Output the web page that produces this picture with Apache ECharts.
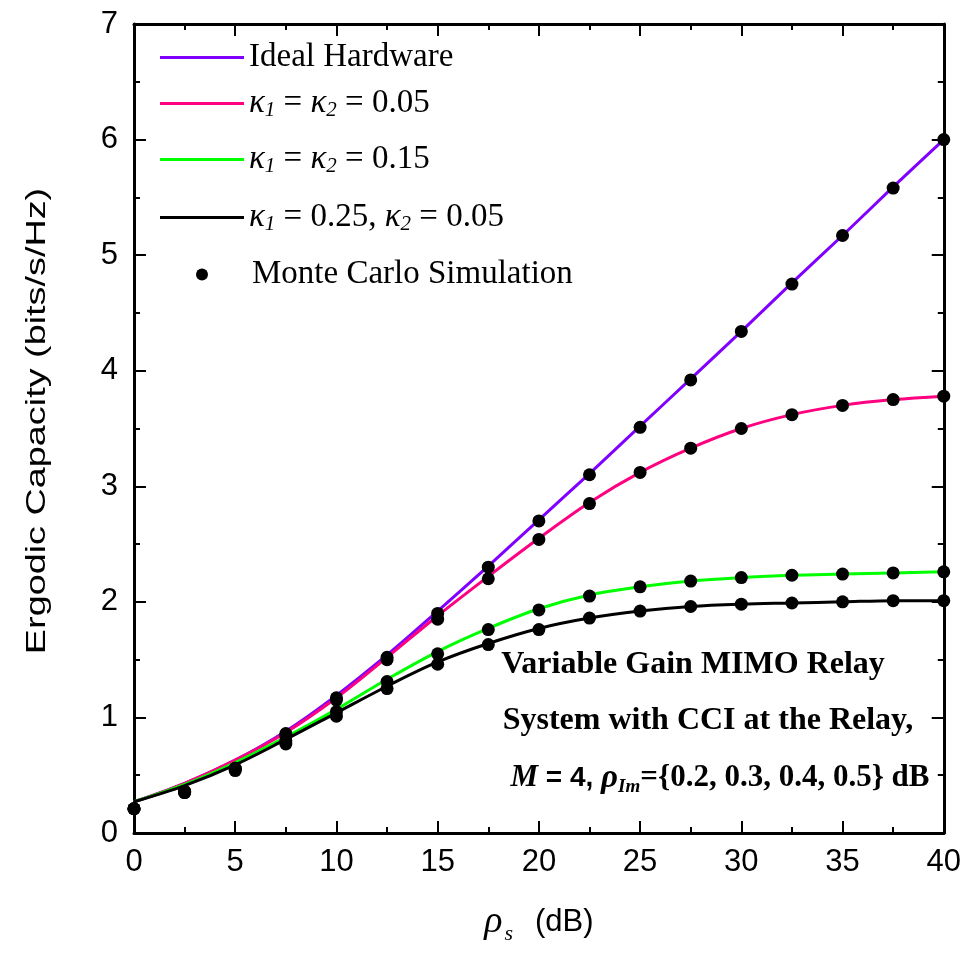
<!DOCTYPE html>
<html><head><meta charset="utf-8">
<script src="https://cdn.jsdelivr.net/npm/echarts@6/dist/echarts.min.js"></script>
<style>html,body{margin:0;padding:0;background:#fff}#c{width:964px;height:954px}</style>
</head><body><div id="c"></div>
<script>
var xs = [0,2.5,5,7.5,10,12.5,15,17.5,20,22.5,25,27.5,30,32.5,35,37.5,40];
var idealCurve = [0.27,0.43,0.63,0.88,1.19,1.54,1.92,2.31,2.71,3.11,3.52,3.93,4.34,4.76,5.17,5.59,6.0];
var k05Curve   = [0.27,0.43,0.63,0.87,1.17,1.52,1.88,2.22,2.55,2.86,3.12,3.33,3.50,3.62,3.70,3.75,3.78];
var k15Curve   = [0.27,0.42,0.61,0.83,1.07,1.33,1.57,1.77,1.94,2.06,2.13,2.18,2.21,2.23,2.24,2.25,2.26];
var k25Curve   = [0.27,0.41,0.59,0.81,1.04,1.27,1.48,1.64,1.77,1.86,1.92,1.96,1.98,1.99,2.00,2.01,2.01];
var idealMC = [0.21,0.36,0.56,0.86,1.17,1.52,1.90,2.30,2.70,3.10,3.51,3.92,4.34,4.75,5.17,5.58,6.0];
var k05MC   = [0.21,0.36,0.56,0.84,1.15,1.50,1.85,2.20,2.54,2.85,3.12,3.33,3.50,3.62,3.70,3.75,3.78];
var k15MC   = [0.21,0.35,0.55,0.80,1.05,1.31,1.55,1.76,1.93,2.05,2.13,2.18,2.21,2.23,2.24,2.25,2.26];
var k25MC   = [0.21,0.35,0.54,0.77,1.01,1.25,1.46,1.63,1.76,1.86,1.92,1.96,1.98,1.99,2.00,2.01,2.01];
var seriesNames = ['Ideal Hardware','k05','k15','k25','Monte Carlo Simulation'];
var seriesColors = ['#8000FF','#FF0080','#00FF00','#000000'];
var yTitle = 'Ergodic Capacity (bits/s/Hz)';

function pairs(v){ return xs.map(function(x,i){ return [x, v[i]]; }); }

var legendLabels = {
  'Ideal Hardware': '{t|Ideal Hardware}',
  'k05': '{k|κ}{s|1}{t| = }{k|κ}{s|2}{t| = 0.05}',
  'k15': '{k|κ}{s|1}{t| = }{k|κ}{s|2}{t| = 0.15}',
  'k25': '{k|κ}{s|1}{t| = 0.25, }{k|κ}{s|2}{t| = 0.05}',
  'Monte Carlo Simulation': '{u|Monte Carlo Simulation}'
};

var curves = [idealCurve,k05Curve,k15Curve,k25Curve];
var mcs = [idealMC,k05MC,k15MC,k25MC];
var series = [];
curves.forEach(function(c,i){
  series.push({name: seriesNames[i], type:'line', data: pairs(c), smooth:0.35, symbol:'none',
    lineStyle:{color: seriesColors[i], width:3}, itemStyle:{color:seriesColors[i]}, z:2, animation:false});
});
mcs.forEach(function(m){
  series.push({name: seriesNames[4], type:'scatter', data: pairs(m), symbol:'circle', symbolSize:13,
    itemStyle:{color:'#000', opacity:1}, z:3, animation:false});
});

var serif = 'Liberation Serif';
var sans = 'Liberation Sans';
var legendRich = {
  k:{fontFamily:serif, fontStyle:'italic', fontSize:33, lineHeight:40, color:'#000'},
  s:{fontFamily:serif, fontStyle:'italic', fontSize:21, lineHeight:26, color:'#000', padding:[14,0,0,0]},
  t:{fontFamily:serif, fontSize:33, lineHeight:40, color:'#000'},
  u:{fontFamily:serif, fontSize:33, lineHeight:40, color:'#000', padding:[0,0,0,39]}
};
var legendTops = [41, 86, 142, 200, 258];
var legends = seriesNames.map(function(n,i){
  var isMC = (i === 4);
  return {
    orient:'vertical', left: isMC ? 196 : 160, top:legendTops[i], padding:0,
    itemWidth: isMC ? 12 : 84, itemHeight: isMC ? 12 : 3, icon: isMC ? 'circle' : 'rect',
    data:[n], selectedMode:false,
    formatter:function(name){ return legendLabels[name]; },
    textStyle:{fontFamily:serif, fontSize:33, color:'#000', rich:legendRich}
  };
});

var tickCommon = {inside:true, length:12, lineStyle:{color:'#000', width:2}};
var minorCommon = {show:true, splitNumber:2, length:6, lineStyle:{color:'#000', width:2}};
var lineCommon = {show:true, onZero:false, lineStyle:{color:'#000', width:3}};

var chart = echarts.init(document.getElementById('c'));
chart.setOption({
  animation:false,
  grid:{left:134, right:19, top:24, bottom:121, containLabel:false},
  legend: legends,
  xAxis:[{
    type:'value', min:0, max:40, interval:5, position:'bottom',
    name:'{i|ρ}{s|s}{t|(dB)}', nameLocation:'middle', nameGap:66,
    nameTextStyle:{rich:{
      i:{fontFamily:serif, fontStyle:'italic', fontSize:38, color:'#000'},
      s:{fontFamily:serif, fontStyle:'italic', fontSize:22, color:'#000', padding:[24,0,0,2]},
      t:{fontFamily:sans, fontSize:31, color:'#000', padding:[0,0,0,22]}}},
    axisLine:lineCommon, axisTick:tickCommon, minorTick:minorCommon,
    axisLabel:{fontFamily:sans, fontSize:31, color:'#000', margin:14},
    splitLine:{show:false}
  },{
    type:'value', min:0, max:40, interval:5, position:'top',
    axisLine:lineCommon, axisTick:tickCommon, minorTick:minorCommon,
    axisLabel:{show:false}, splitLine:{show:false}
  }],
  yAxis:[{
    type:'value', min:0, max:7, interval:1, position:'left',
    axisLine:lineCommon, axisTick:tickCommon, minorTick:minorCommon,
    axisLabel:{fontFamily:sans, fontSize:31, color:'#000', margin:16},
    splitLine:{show:false}
  },{
    type:'value', min:0, max:7, interval:1, position:'right',
    axisLine:lineCommon, axisTick:tickCommon, minorTick:minorCommon,
    axisLabel:{show:false}, splitLine:{show:false}
  }],
  graphic:[
    {type:'text', x:38, y:421, rotation:Math.PI/2, scaleX:1.4,
      style:{text:yTitle, fontFamily:sans, fontSize:27, fill:'#000', align:'center', verticalAlign:'middle'}},
    {type:'text', x:693, y:665,
      style:{text:'Variable Gain MIMO Relay', fontFamily:serif, fontWeight:'bold', fontSize:32, fill:'#000', align:'center', verticalAlign:'middle'}},
    {type:'text', x:708, y:721,
      style:{text:'System with CCI at the Relay,', fontFamily:serif, fontWeight:'bold', fontSize:32, fill:'#000', align:'center', verticalAlign:'middle'}},
    {type:'text', x:720, y:778,
      style:{
      text:'{m|M}{b| = 4, }{r|ρ}{s|Im}{t|=}{0.2, 0.3, 0.4, 0.5}{t| dB}', align:'center', verticalAlign:'middle',
      fontFamily:serif, fontWeight:'bold', fontSize:31, fill:'#000',
      rich:{
        m:{fontFamily:serif, fontWeight:'bold', fontStyle:'italic', fontSize:31, fill:'#000'},
        b:{fontFamily:sans, fontWeight:'bold', fontSize:28, fill:'#000'},
        r:{fontFamily:serif, fontWeight:'bold', fontStyle:'italic', fontSize:33, fill:'#000'},
        s:{fontFamily:serif, fontWeight:'bold', fontStyle:'italic', fontSize:19, fill:'#000', padding:[18,0,0,0]},
        t:{fontFamily:serif, fontWeight:'bold', fontSize:31, fill:'#000'}
      }}}
  ],
  series: series
});
</script></body></html>
